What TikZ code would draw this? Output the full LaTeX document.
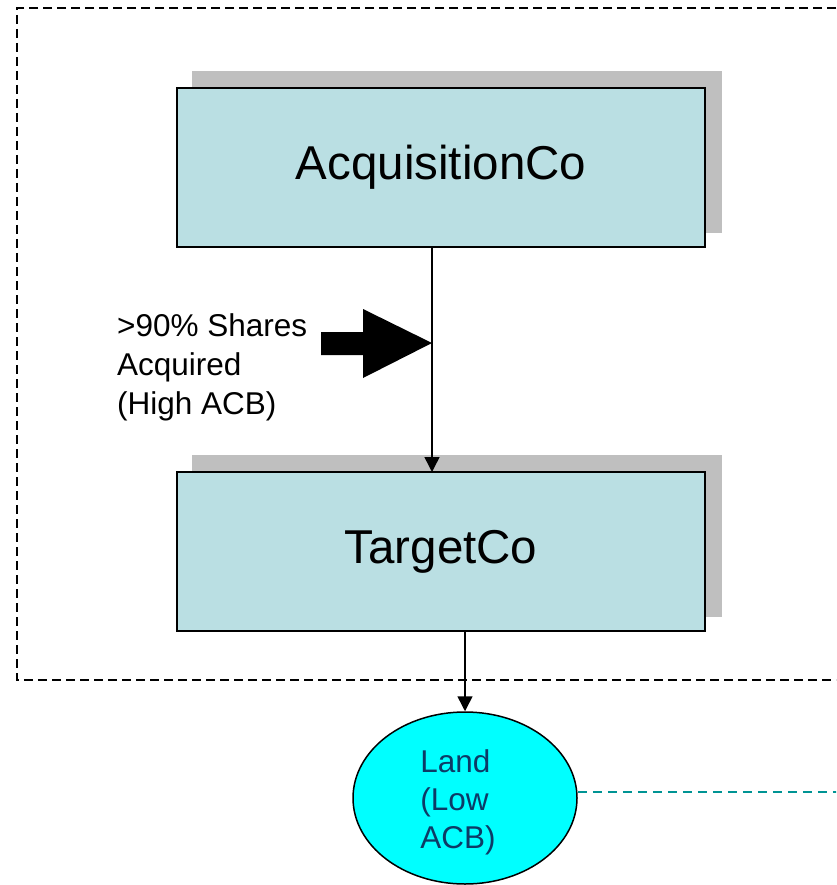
\documentclass[tikz,border=0pt]{standalone}
\usepackage{fontspec}
\setmainfont{Liberation Sans}
\usetikzlibrary{arrows.meta,shapes.geometric}

\definecolor{boxfill}{HTML}{BADFE3}
\definecolor{shadowgray}{HTML}{BFBFBF}
\definecolor{landfill}{HTML}{00FFFF}
\definecolor{landtext}{HTML}{0D3B66}
\definecolor{tealline}{HTML}{009494}

\tikzset{
  entity/.style={draw=black, line width=2pt, fill=boxfill,
    minimum width=528pt, minimum height=159pt, inner sep=0pt,
    font=\fontsize{47.5}{52}\selectfont},
  boxshadow/.style={fill=shadowgray, draw=none},
  link/.style={line width=1.5pt, -{Triangle[width=15pt,length=15pt]}},
  asset/.style={ellipse, draw=black, line width=1.5pt, fill=landfill,
    minimum width=224pt, minimum height=172pt, inner sep=0pt},
  assettext/.style={text=landtext, align=left, inner sep=0pt,
    font=\fontsize{31.5}{38}\selectfont},
  group/.style={dashed, dash pattern=on 9pt off 5pt, line width=1.8pt},
  tealdash/.style={draw=tealline, line width=1.6pt, dash pattern=on 9pt off 6pt},
}

\begin{document}
\begin{tikzpicture}[x=1pt,y=-1pt]
  \useasboundingbox (0,0) rectangle (836,885);
  \clip (0,0) rectangle (836,885);

  % dashed group outline (runs past the right edge)
  \draw[group] (850,8) -- (17,8) -- (17,680) -- (850,680);

  % shadows behind the company boxes
  \fill[boxshadow] (192,71) rectangle (722,233);
  \fill[boxshadow] (192,455) rectangle (722,617);

  % company boxes
  \node[entity] (acq) at (441,167.5) {AcquisitionCo};
  \node[entity] (tgt) at (441,551.5) {TargetCo};

  % land asset with its left-aligned caption
  \node[asset] (land) at (465,798) {};
  \node[assettext] (landlbl) at (458,802) {Land\\(Low\\ACB)};

  % ownership links
  \coordinate (acqout) at (432,247);
  \coordinate (tgtin) at (432,472);
  \draw[link] (acqout) -- (tgtin);
  \coordinate (tgtout) at (465,631);
  \draw[link] (tgtout) -- (land.north);

  % block arrow pointing at the share link
  \coordinate (tip) at (432,343);
  \fill[black] (321,332) -- (363,332) -- (363,309) -- (tip) -- (363,378)
    -- (363,355) -- (321,355) -- cycle;

  \node[anchor=north west, align=left, inner sep=0pt,
        font=\fontsize{31.5}{39}\selectfont] (lbl) at (117,313)
    {>90\% Shares\\Acquired\\(High ACB)};

  % teal dashed line from the land asset to the right edge
  \coordinate (rightend) at (840,792);
  \draw[tealdash] (land.east |- rightend) -- (rightend);
\end{tikzpicture}
\end{document}
